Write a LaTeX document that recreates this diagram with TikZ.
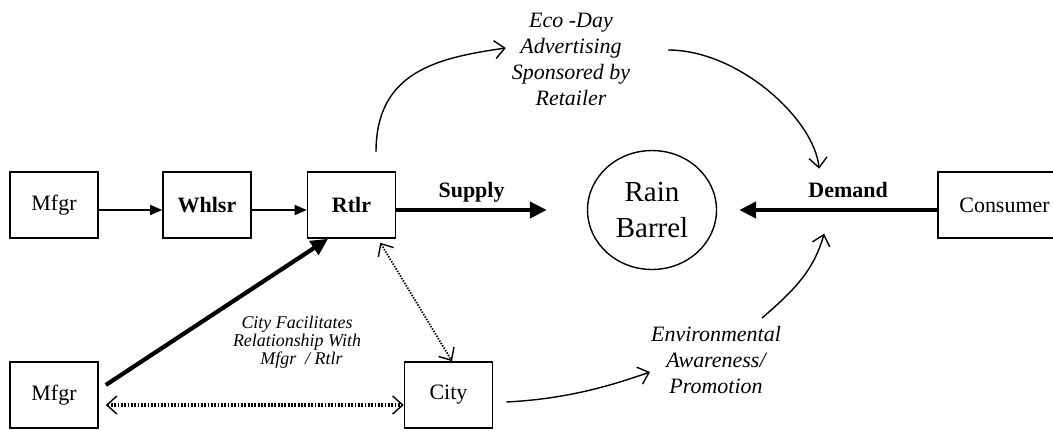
\documentclass[tikz,border=0pt]{standalone}
\usepackage{fontspec}
\setmainfont{Liberation Serif}
\usetikzlibrary{positioning,arrows.meta,shapes.geometric}
\tikzset{
  chainbox/.style={draw, line width=0.9pt, minimum width=1.76cm, minimum height=1.32cm, inner sep=2pt, font=\fontsize{12.5}{14}\selectfont},
  keybox/.style={chainbox, font=\fontsize{12.5}{14}\selectfont\bfseries},
  barrelnode/.style={draw, ellipse, line width=0.8pt, inner sep=0pt, minimum width=2.58cm, minimum height=2.38cm, align=center, font=\fontsize{16.5}{20}\selectfont},
  flowarrow/.style={-{Triangle[length=2.4mm, width=2mm]}, line width=0.8pt},
  bigarrow/.style={-{Triangle[length=3.4mm, width=3.2mm]}, line width=2.4pt},
  openarrow/.style={-{Straight Barb[length=2mm, width=3.6mm]}, line width=0.8pt},
  dotarrow/.style={{Straight Barb[length=2mm, width=3.6mm, line width=0.8pt]}-{Straight Barb[length=2mm, width=3.6mm, line width=0.8pt]}, dash pattern=on 1pt off 0.9pt},
  effect/.style={align=center, inner sep=1pt, font=\fontsize{12.5}{14.8}\selectfont\itshape},
  smalleffect/.style={align=center, inner sep=1pt, font=\fontsize{10.2}{10.2}\selectfont\itshape},
  relabel/.style={font=\fontsize{12.5}{14}\selectfont\bfseries, inner sep=1pt, text depth=0pt}
}

\begin{document}
\begin{tikzpicture}[x=0.02cm, y=-0.02cm, >=Latex]
  \useasboundingbox (0,0) rectangle (1053,430);
  \clip (0,0) rectangle (1053,430);
  % supply chain
  \node[chainbox] (mfgrtop) at (54,205) {Mfgr};
  \node[keybox] (whlsr) at (207,205) {Whlsr};
  \node[keybox] (rtlr) at (351.5,205) {Rtlr};
  \node[barrelnode] (barrel) at (652,210) {Rain\\Barrel};
  \node[chainbox, minimum width=2.66cm] (consumer) at (1004.5,205) {Consumer};
  \node[chainbox] (mfgrlow) at (54,395) {Mfgr};
  \node[chainbox] (city) at (448.5,395) {City};
  % effect labels
  \node[effect] (ecoday) at (571,59) {Eco -Day\\Advertising\\Sponsored by\\Retailer};
  \node[effect] (enviro) at (716,360) {Environmental\\Awareness/\\Promotion};
  \node[smalleffect] (facil) at (297,342) {City Facilitates\\Relationship With\\\ \ Mfgr \ / Rtlr};

  \draw[flowarrow] ([yshift=-1mm]mfgrtop.east) -- ([yshift=-1mm]whlsr.west);
  \draw[flowarrow] ([yshift=-1mm]whlsr.east) -- ([yshift=-1mm]rtlr.west);
  \draw[bigarrow] (rtlr.east |- barrel.west) -- ([xshift=-0.8cm]barrel.west)
    node[relabel, pos=0.5, above=5pt] (supply) {Supply};
  \draw[bigarrow] (consumer.west |- barrel.east) -- ([xshift=0.44cm]barrel.east)
    node[relabel, pos=0.45, above=5pt] (demand) {Demand};
  \draw[bigarrow] ([xshift=0.14cm, yshift=0.2cm]mfgrlow.east) -- ([xshift=-0.47cm]rtlr.south);
  \draw[dotarrow, line width=1.8pt] ([xshift=0.14cm, yshift=-0.2cm]mfgrlow.east) -- ([yshift=-0.2cm]city.west);
  \draw[dotarrow, line width=1pt, dash pattern=on 0.8pt off 0.8pt] ([xshift=-0.32cm, yshift=-0.08cm]rtlr.south east) -- ([xshift=0.07cm]city.north);

  \draw[openarrow] ([xshift=0.49cm, yshift=0.38cm]rtlr.north) .. controls +(0,-80) and +(-70,10) .. ([xshift=-0.08cm, yshift=0.22cm]ecoday.west);
  \draw[openarrow] ([xshift=0.72cm, yshift=0.18cm]ecoday.east) .. controls +(70,0) and +(-5,-50) .. ([xshift=-0.58cm, yshift=0.42cm]demand.center);
  \draw[openarrow] ([xshift=0.92cm, yshift=0.84cm]enviro.center) .. controls +(35,-30) and +(-10,35) .. ([xshift=-0.48cm, yshift=-0.88cm]demand.center);
  \draw[openarrow] ([xshift=0.26cm, yshift=-0.14cm]city.east) .. controls +(60,-3) and +(-40,14) .. ([xshift=-1.32cm, yshift=-0.24cm]enviro.center);
\end{tikzpicture}
\end{document}
